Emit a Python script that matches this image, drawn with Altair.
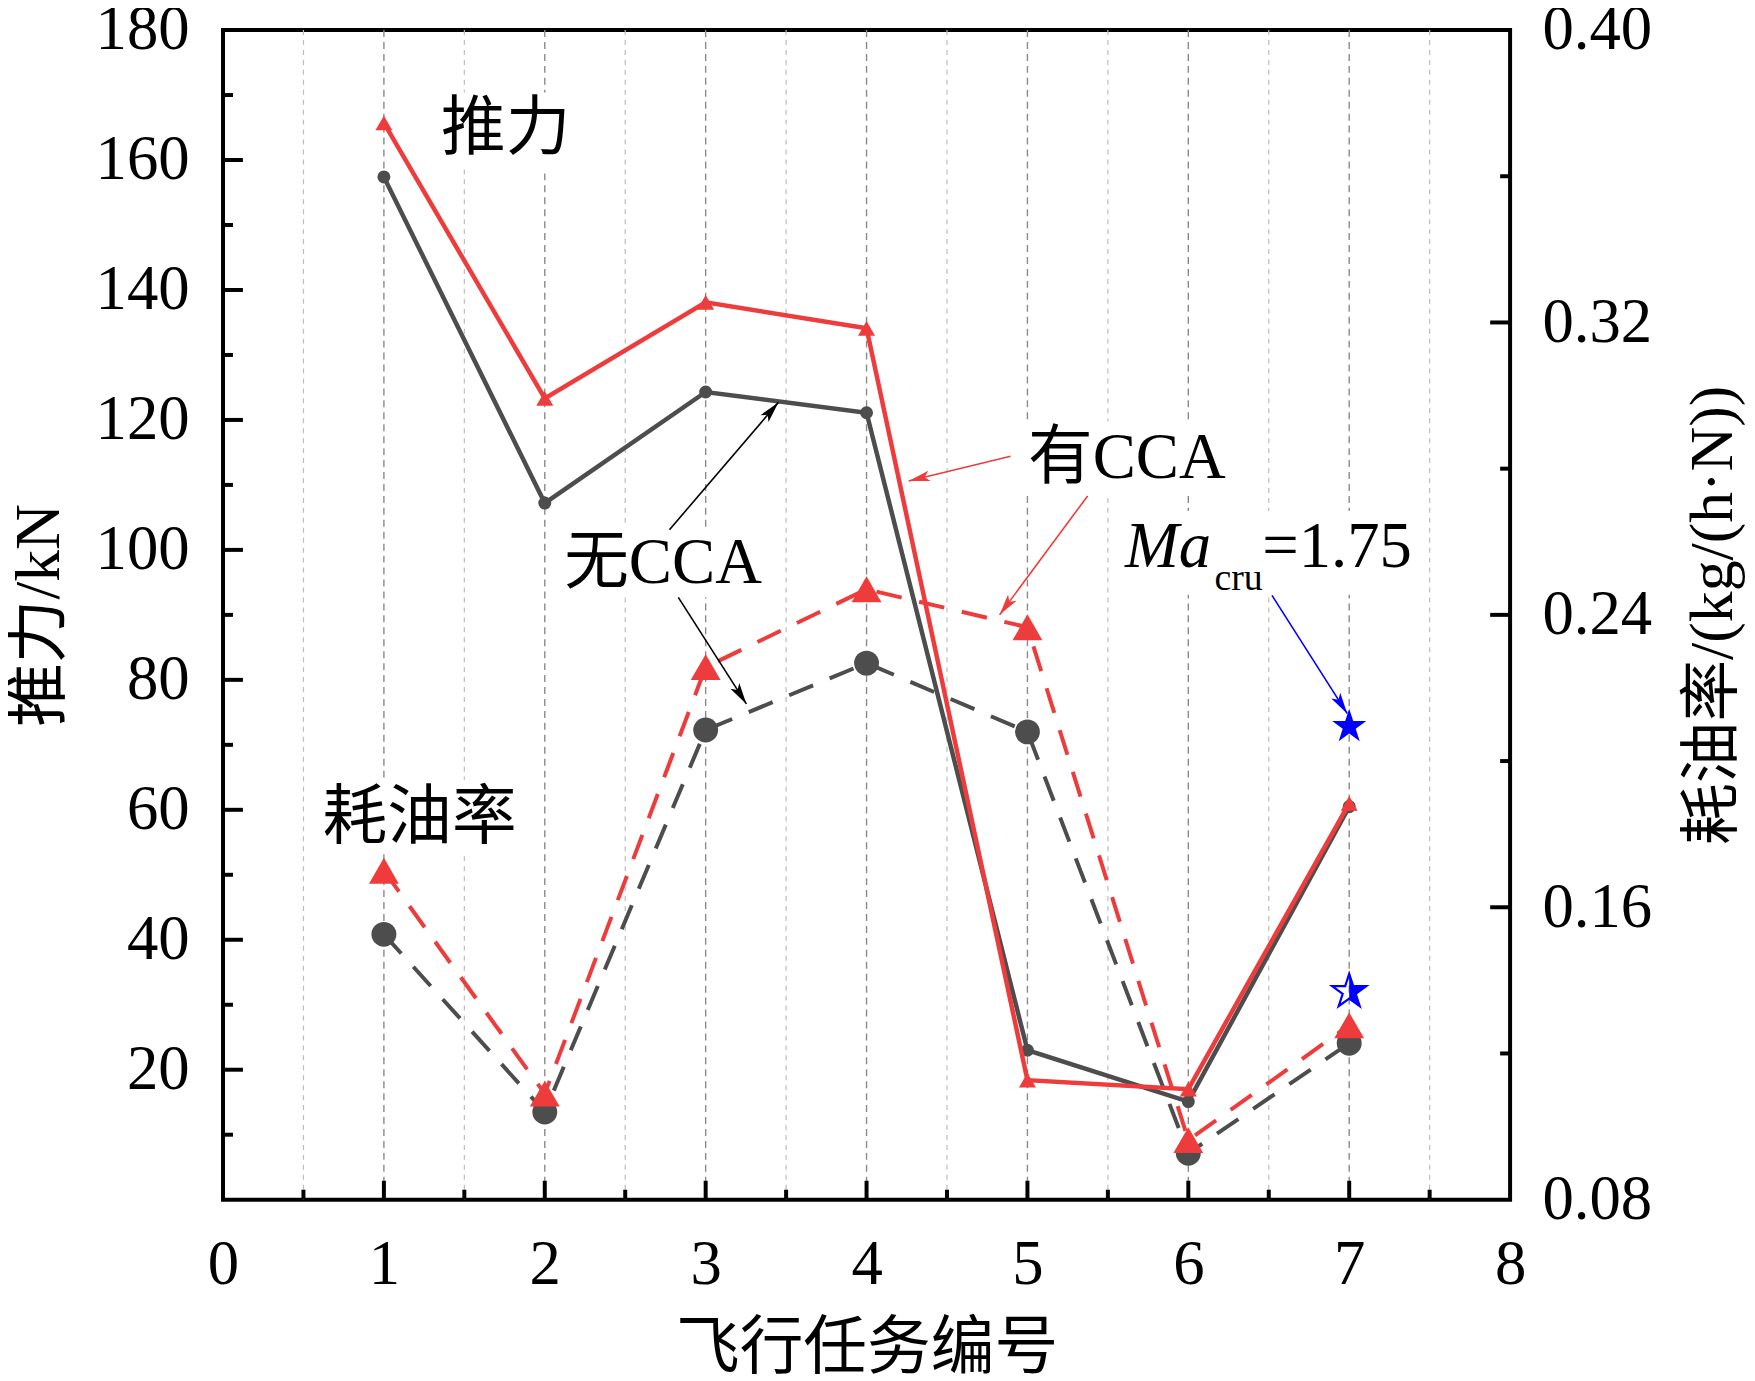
import math
import altair as alt
import pandas as pd

# ---------------- data ----------------
missions = [1, 2, 3, 4, 5, 6, 7]
thrust_no_cca = [157.4, 107.2, 124.3, 121.1, 23.0, 15.1, 60.5]      # kN, left axis
thrust_cca = [165.7, 123.3, 138.1, 134.1, 18.4, 17.0, 61.0]         # kN, left axis
sfc_no_cca = [0.1526, 0.1040, 0.2085, 0.2268, 0.2080, 0.0927, 0.1228]  # right axis
sfc_cca = [0.1700, 0.1090, 0.2257, 0.2470, 0.2366, 0.0963, 0.1277]     # right axis
ma175_mission = [7]
ma175_thrust = [72.8]
ma175_sfc = [0.1369]

x_tick_values = [0, 1, 2, 3, 4, 5, 6, 7, 8]
x_minor_values = [0.5, 1.5, 2.5, 3.5, 4.5, 5.5, 6.5, 7.5]
left_tick_values = [20, 40, 60, 80, 100, 120, 140, 160, 180]
left_minor_values = [10, 30, 50, 70, 90, 110, 130, 150, 170]
right_tick_values = [0.08, 0.16, 0.24, 0.32, 0.40]
right_minor_values = [0.12, 0.20, 0.28, 0.36]

x_title = "飞行任务编号"
left_title = "推力/kN"
right_title = "耗油率/(kg/(h·N))"

# annotation texts (positions in data units of the left axis)
note_text = ["推力", "耗油率", "有CCA", "无CCA"]
note_x = [1.757, 1.222, 5.618, 2.735]
note_y = [164.7, 58.8, 114.1, 98.0]

ma_main_text = ["Ma"]
ma_main_x = [5.606]
ma_main_y = [97.3]
ma_sub_text = ["cru"]
ma_sub_x = [6.162]
ma_sub_y = [93.9]
ma_val_text = ["=1.75"]
ma_val_x = [6.459]
ma_val_y = [97.3]

# white background boxes behind annotation texts
box_x1 = [1.336, 0.563, 4.956, 2.060, 5.562]
box_x2 = [2.190, 1.881, 6.286, 3.409, 7.431]
box_y1 = [170.4, 64.6, 119.8, 103.4, 106.0]
box_y2 = [158.6, 53.2, 108.5, 92.7, 93.1]

# arrows (tail -> head)
arrow_xt = [4.895, 5.374, 2.775, 2.830, 6.520]
arrow_yt = [114.4, 108.3, 103.1, 92.7, 93.0]
arrow_xh = [4.262, 4.827, 3.452, 3.253, 6.988]
arrow_yh = [110.6, 90.0, 122.7, 76.3, 74.8]
RED = "#EE3B3B"
GRAY = "#4D4D4D"
BLUE = "#0000FF"
arrow_color = [RED, RED, "#000000", "#000000", BLUE]

# ---------------- layout ----------------
W, H = 1293, 1175
FONT = "Liberation Serif, Noto Sans CJK SC"
SX = W / 8.0
SY = H / 180.0

arrow_angle = []
for xt, yt, xh, yh in zip(arrow_xt, arrow_yt, arrow_xh, arrow_yh):
    a = math.degrees(math.atan2((xh - xt) * SX, (yh - yt) * SY)) % 360
    arrow_angle.append(a)

ARROW = "M0,0L0.42,1.7L0,1.3L-0.42,1.7Z"


def star_path(half=False):
    pts = []
    n = 6 if half else 10
    for k in range(n):
        ang = math.radians(-90 + 36 * k)
        r = 1.0 if k % 2 == 0 else 0.382
        pts.append((r * math.cos(ang), r * math.sin(ang)))
    return "M" + "L".join(f"{x:.4f},{y:.4f}" for x, y in pts) + "Z"


STAR = star_path()
HALF_STAR = star_path(half=True)

xscale = alt.Scale(domain=[0, 8], nice=False, zero=False)
yl_scale = alt.Scale(domain=[0, 180], nice=False, zero=False)
yr_scale = alt.Scale(domain=[0.08, 0.40], nice=False, zero=False)

common_axis = dict(
    labelFont=FONT, labelFontSize=63, labelColor="black",
    titleFont=FONT, titleFontWeight="normal", titleColor="black",
    ticks=False, tickSize=0, domain=False, grid=False,
    labelFlush=False, labelOverlap=False,
)
xaxis = alt.Axis(values=x_tick_values, title=x_title, format="d",
                 labelPadding=34, titlePadding=21, titleFontSize=64, **common_axis)
yl_axis = alt.Axis(values=left_tick_values, title=left_title, orient="left", format="d",
                   labelPadding=34, titlePadding=24, titleFontSize=64, **common_axis)
yr_axis = alt.Axis(values=right_tick_values, title=right_title, orient="right", format=".2f",
                   labelPadding=32, titlePadding=31, titleFontSize=62, titleAngle=270,
                   titleBaseline="top", **common_axis)


def X(f):
    return alt.X(f"{f}:Q", scale=xscale, axis=xaxis)


def YL(f):
    return alt.Y(f"{f}:Q", scale=yl_scale, axis=yl_axis)


def YR(f):
    return alt.Y(f"{f}:Q", scale=yr_scale, axis=yr_axis)


# ---------------- background: grid & bottom ticks ----------------
grid_half = alt.Chart(pd.DataFrame({"v": x_minor_values})).mark_rule(
    color="#bdbdbd", strokeWidth=1.2, strokeDash=[5, 5]
).encode(x=X("v"), y=alt.value(0), y2=alt.value(H))
grid_major = alt.Chart(pd.DataFrame({"v": x_tick_values[1:-1]})).mark_rule(
    color="#8a8a8a", strokeWidth=1.4, strokeDash=[7, 5]
).encode(x=X("v"), y=alt.value(0), y2=alt.value(H))
xt_major = alt.Chart(pd.DataFrame({"v": x_tick_values[1:-1]})).mark_rule(
    color="black", strokeWidth=4
).encode(x=X("v"), y=alt.value(H), y2=alt.value(H - 19))
xt_minor = alt.Chart(pd.DataFrame({"v": x_minor_values})).mark_rule(
    color="black", strokeWidth=4
).encode(x=X("v"), y=alt.value(H), y2=alt.value(H - 10))

# ---------------- right axis group: fuel consumption ----------------
df_s = pd.DataFrame({"x": missions, "no": sfc_no_cca, "cca": sfc_cca})
bs = alt.Chart(df_s)
s_gray_line = bs.mark_line(color=GRAY, strokeWidth=4, strokeDash=[26, 18]).encode(x=X("x"), y=YR("no"))
s_gray_pt = bs.mark_point(shape="circle", filled=True, size=625, color=GRAY, opacity=1).encode(x=X("x"), y=YR("no"))
s_red_line = bs.mark_line(color=RED, strokeWidth=4, strokeDash=[26, 18]).encode(x=X("x"), y=YR("cca"))
s_red_pt = bs.mark_point(shape="triangle-up", filled=True, size=900, color=RED, opacity=1).encode(x=X("x"), y=YR("cca"))
df_star_s = pd.DataFrame({"x": ma175_mission, "y": ma175_sfc})
s_star_open = alt.Chart(df_star_s).mark_point(
    shape=STAR, filled=False, size=1296, stroke=BLUE, strokeWidth=2.2, opacity=1
).encode(x=X("x"), y=YR("y"))
s_star_half = alt.Chart(df_star_s).mark_point(
    shape=HALF_STAR, filled=True, size=1296, color=BLUE, opacity=1
).encode(x=X("x"), y=YR("y"))
r_major = alt.Chart(pd.DataFrame({"v": right_tick_values[1:-1]})).mark_rule(
    color="black", strokeWidth=4
).encode(y=YR("v"), x=alt.value(W), x2=alt.value(W - 20))
r_minor = alt.Chart(pd.DataFrame({"v": right_minor_values})).mark_rule(
    color="black", strokeWidth=4
).encode(y=YR("v"), x=alt.value(W), x2=alt.value(W - 10))

right_group = alt.layer(s_gray_line, s_gray_pt, s_red_line, s_red_pt,
                        s_star_open, s_star_half, r_major, r_minor)

# ---------------- left axis group: thrust + annotations ----------------
boxes = alt.Chart(pd.DataFrame({"x1": box_x1, "x2": box_x2, "y1": box_y1, "y2": box_y2})).mark_rect(
    fill="white", strokeWidth=0
).encode(x=X("x1"), x2=alt.X2("x2"), y=YL("y1"), y2=alt.Y2("y2"))

df_t = pd.DataFrame({"x": missions, "no": thrust_no_cca, "cca": thrust_cca})
bt = alt.Chart(df_t)
t_gray_line = bt.mark_line(color=GRAY, strokeWidth=4.5).encode(x=X("x"), y=YL("no"))
t_gray_pt = bt.mark_point(shape="circle", filled=True, size=170, color=GRAY, opacity=1).encode(x=X("x"), y=YL("no"))
t_red_line = bt.mark_line(color=RED, strokeWidth=4.5).encode(x=X("x"), y=YL("cca"))
t_red_pt = bt.mark_point(shape="triangle-up", filled=True, size=290, color=RED, opacity=1).encode(x=X("x"), y=YL("cca"))
t_star = alt.Chart(pd.DataFrame({"x": ma175_mission, "y": ma175_thrust})).mark_point(
    shape=STAR, filled=True, size=1296, color=BLUE, opacity=1
).encode(x=X("x"), y=YL("y"))

notes = alt.Chart(pd.DataFrame({"x": note_x, "y": note_y, "t": note_text})).mark_text(
    font=FONT, fontSize=65, color="black", align="center", baseline="middle"
).encode(x=X("x"), y=YL("y"), text="t:N")
ma_main = alt.Chart(pd.DataFrame({"x": ma_main_x, "y": ma_main_y, "t": ma_main_text})).mark_text(
    font=FONT, fontSize=65, fontStyle="italic", color="black", align="left", baseline="alphabetic"
).encode(x=X("x"), y=YL("y"), text="t:N")
ma_sub = alt.Chart(pd.DataFrame({"x": ma_sub_x, "y": ma_sub_y, "t": ma_sub_text})).mark_text(
    font=FONT, fontSize=38, color="black", align="left", baseline="alphabetic"
).encode(x=X("x"), y=YL("y"), text="t:N")
ma_val = alt.Chart(pd.DataFrame({"x": ma_val_x, "y": ma_val_y, "t": ma_val_text})).mark_text(
    font=FONT, fontSize=65, color="black", align="left", baseline="alphabetic"
).encode(x=X("x"), y=YL("y"), text="t:N")

df_arrow = pd.DataFrame({"xt": arrow_xt, "yt": arrow_yt, "xh": arrow_xh, "yh": arrow_yh,
                         "c": arrow_color, "ang": arrow_angle})
arrow_lines = alt.Chart(df_arrow).mark_rule(strokeWidth=1.6).encode(
    x=X("xt"), y=YL("yt"), x2=alt.X2("xh"), y2=alt.Y2("yh"),
    color=alt.Color("c:N", scale=None)
)
arrow_heads = alt.Chart(df_arrow).mark_point(shape=ARROW, filled=True, size=640, opacity=1, strokeWidth=0).encode(
    x=X("xh"), y=YL("yh"), color=alt.Color("c:N", scale=None), angle=alt.Angle("ang:Q", scale=None)
)

l_major = alt.Chart(pd.DataFrame({"v": left_tick_values[:-1]})).mark_rule(
    color="black", strokeWidth=4
).encode(y=YL("v"), x=alt.value(0), x2=alt.value(20))
l_minor = alt.Chart(pd.DataFrame({"v": left_minor_values})).mark_rule(
    color="black", strokeWidth=4
).encode(y=YL("v"), x=alt.value(0), x2=alt.value(10))

left_group = alt.layer(boxes, t_gray_line, t_gray_pt, t_red_line, t_red_pt, t_star,
                       notes, ma_main, ma_sub, ma_val, arrow_lines, arrow_heads,
                       l_major, l_minor)

chart = alt.layer(
    grid_half, grid_major, xt_major, xt_minor, right_group, left_group
).resolve_scale(
    y="independent"
).properties(
    width=W, height=H,
    padding={"left": 216, "top": 19, "right": 238, "bottom": 179},
    autosize=alt.AutoSizeParams(type="none"),
    background="white",
).configure_view(
    stroke="black", strokeWidth=4
)

chart.save("out.html", embed_options={"renderer": "svg", "actions": False})
